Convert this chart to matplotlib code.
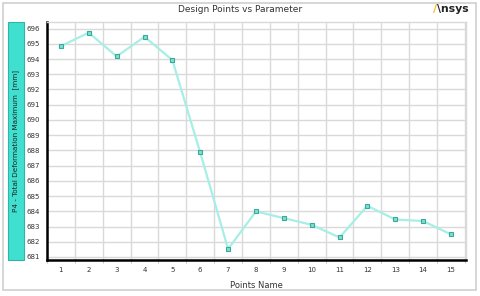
import matplotlib
matplotlib.use("Agg")
import matplotlib.pyplot as plt
from matplotlib.patches import Rectangle

points = list(range(1, 16))
values = [694.85, 695.73, 694.17, 695.46, 693.93, 687.86, 681.52, 683.99,
          683.55, 683.11, 682.28, 684.36, 683.46, 683.36, 682.48]
yticks = list(range(681, 697))

fig = plt.figure(figsize=(4.8, 2.96), dpi=100)
fig.patch.set_facecolor("white")
# outer frame
fig.add_artist(Rectangle((3/480, 6/296), 473/480, 287/296, transform=fig.transFigure,
                         fill=False, edgecolor="#d0d0d0", linewidth=1.2))

ax = fig.add_axes([47/480, 36/296, 419/480, 238/296])
ax.plot(points, values, color="#a6efe6", linewidth=1.6, marker="s", markersize=3.3,
        markerfacecolor="#7fe0d2", markeredgecolor="#3aa89a", markeredgewidth=0.8, zorder=3)
ax.set_xlim(0.53, 15.54)
ax.set_ylim(680.8, 696.43)
ax.set_yticks(yticks)
ax.set_yticklabels([str(v) for v in yticks])
ax.set_xticks(points)
ax.set_xticklabels([str(p) for p in points])
ax.set_xticks([p + 0.5 for p in range(0, 16)], minor=True)
ax.tick_params(axis="both", which="major", labelsize=5, colors="#333333", length=0, pad=5)
ax.tick_params(axis="x", which="minor", length=2.5, color="#bbbbbb", direction="out")
ax.grid(True, axis="y", which="major", color="#d9d9d9", linewidth=1.0)
ax.grid(True, axis="x", which="minor", color="#d9d9d9", linewidth=1.0)
ax.set_axisbelow(True)
for s in ["left", "bottom"]:
    ax.spines[s].set_color("black")
    ax.spines[s].set_linewidth(1.8)
for s in ["top", "right"]:
    ax.spines[s].set_color("#d9d9d9")
    ax.spines[s].set_linewidth(1.0)
ax.set_xlabel("Points Name", fontsize=6, color="#333333", labelpad=6)

# y label box
fig.add_artist(Rectangle((8/480, 36/296), 16/480, 238/296, transform=fig.transFigure,
                         facecolor="#40e0d0", edgecolor="#33b3a6", linewidth=0.8))
fig.text(16/480, (36 + 119)/296, "P4 - Total Deformation Maximum  [mm]", rotation=90,
         ha="center", va="center", fontsize=5.2, color="#222222")

fig.text(240/480, 1 - 9/296, "Design Points vs Parameter", ha="center", va="center",
         fontsize=6.5, color="#333333")
# logo
fig.text(433/480, 1 - 9/296, "/", ha="left", va="center", fontsize=8, color="#ffb71b",
         fontweight="bold")
fig.text(437/480, 1 - 9/296, "\\nsys", ha="left", va="center", fontsize=7.8,
         color="#222222", fontweight="bold")

fig.savefig("out.png", dpi=100)
